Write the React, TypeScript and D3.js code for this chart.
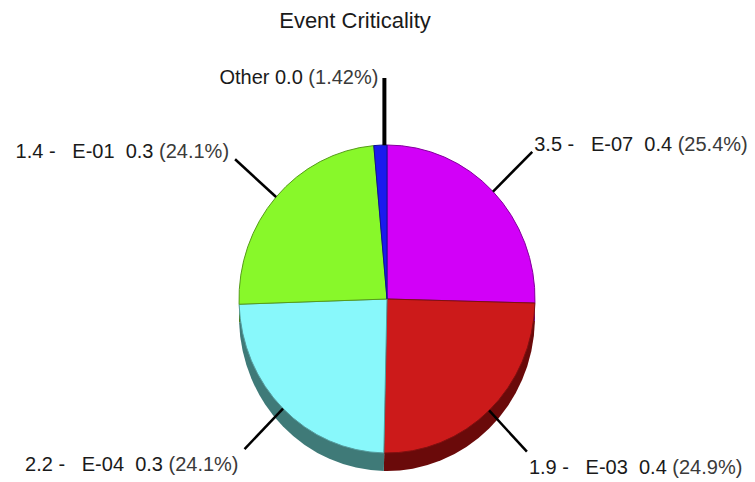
import React from "react";
import * as d3 from "d3";

// Slices in clockwise order from 12 o'clock
const events = ["E-07", "E-03", "E-04", "E-01", "Other"];
const codes = ["3.5", "1.9", "2.2", "1.4", ""];
const values = [0.4, 0.4, 0.3, 0.3, 0.0];
const shares = [25.4, 24.9, 24.1, 24.1, 1.42];
const faceColors = ["#d200f8", "#cc1a1a", "#88f8fb", "#88f82a", "#1a1aee"];
const sideColors = ["#6a0080", "#6a0a0a", "#3f7a78", "#447c15", "#0d0d77"];

const W = 755;
const H = 482;
const cx = 387;
const cy = 299;
const rx = 148;
const ry = 154;
const depth = 18;

type Slice = d3.PieArcDatum<number> & { i: number };

export default function App() {
  const pie = d3
    .pie<number>()
    .sort(null)
    .value((d) => d);
  const arcs = pie(shares).map((a, i) => ({ ...a, i })) as Slice[];
  const arc = d3.arc<d3.PieArcDatum<number>>().innerRadius(0).outerRadius(ry);
  const sx = rx / ry;

  // point on the ellipse rim at a pie angle, scaled by k
  const rim = (angle: number, k: number) => ({
    x: cx + rx * k * Math.sin(angle),
    y: cy - ry * k * Math.cos(angle),
  });

  const labelText = (i: number) =>
    codes[i] ? `${codes[i]} -   ${events[i]}  ${values[i].toFixed(1)} ` : `${events[i]} ${values[i].toFixed(1)} `;

  return (
    <svg
      width={W}
      height={H}
      style={{ position: "absolute", left: 0, top: 0, background: "#fff" }}
      fontFamily="'Liberation Sans', Arial, sans-serif"
    >
      <text x={355} y={28} textAnchor="middle" fontSize={22} fill="#1a1a1a">
        Event Criticality
      </text>

      {/* side of the disc */}
      <g transform={`translate(${cx},${cy + depth}) scale(${sx},1)`}>
        {arcs.map((a) => (
          <path key={"s" + a.i} d={arc(a) || ""} fill={sideColors[a.i]} />
        ))}
      </g>

      {/* top face */}
      <g transform={`translate(${cx},${cy}) scale(${sx},1)`}>
        {arcs.map((a) => (
          <path
            key={"f" + a.i}
            d={arc(a) || ""}
            fill={faceColors[a.i]}
            stroke={d3.color(faceColors[a.i])!.darker(1.3).formatHex()}
            strokeWidth={1}
            vectorEffect="non-scaling-stroke"
          />
        ))}
      </g>

      {/* leader lines and labels */}
      {arcs.map((a) => {
        const mid = (a.startAngle + a.endAngle) / 2;
        const p0 = rim(mid, 1);
        const pct = `(${shares[a.i]}%)`;
        if (events[a.i] === "Other") {
          const topY = 78;
          return (
            <g key={"l" + a.i}>
              <line x1={p0.x + 4} y1={p0.y} x2={p0.x + 4} y2={topY} stroke="#000" strokeWidth={4} />
              <text x={p0.x - 2} y={topY + 6} textAnchor="end" fontSize={20} fill="#1a1a1a" style={{ whiteSpace: "pre" }}>
                {labelText(a.i)}
                <tspan fill="#3a3a3a">{pct}</tspan>
              </text>
            </g>
          );
        }
        const p1 = rim(mid, 1.37);
        const right = Math.sin(mid) > 0;
        const bottom = Math.cos(mid) < 0;
        const tx = right ? p1.x + 2 : p1.x - 6;
        const ty = bottom ? p1.y + 22 : p1.y - 1;
        return (
          <g key={"l" + a.i}>
            <line x1={p0.x} y1={p0.y} x2={p1.x} y2={p1.y} stroke="#000" strokeWidth={2.5} />
            <text
              x={tx}
              y={ty}
              textAnchor={right ? "start" : "end"}
              fontSize={20}
              fill="#1a1a1a"
              style={{ whiteSpace: "pre" }}
            >
              {labelText(a.i)}
              <tspan fill="#3a3a3a">{pct}</tspan>
            </text>
          </g>
        );
      })}
    </svg>
  );
}
